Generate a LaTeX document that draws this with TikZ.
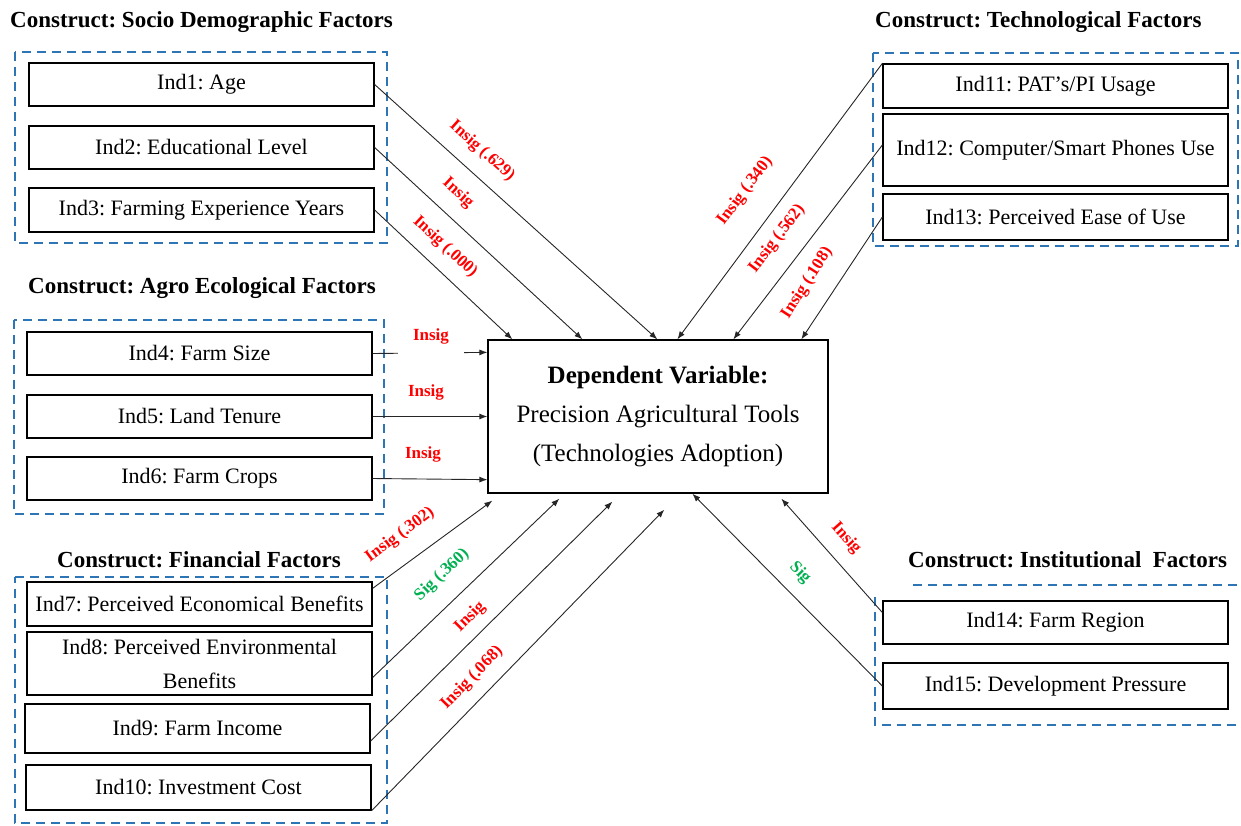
\documentclass[tikz,border=0pt]{standalone}
\usepackage{fontspec}
\setmainfont{Liberation Serif}
\usetikzlibrary{arrows.meta}
\definecolor{grpblue}{HTML}{2E75B6}
\definecolor{insigred}{HTML}{FF0000}
\definecolor{siggreen}{HTML}{00B050}
\frenchspacing
\begin{document}
\begin{tikzpicture}[x=1pt,y=-1pt,
  ind/.style={draw=black, line width=1.3pt, minimum width=345pt, inner sep=0pt,
              align=center, font=\fontsize{22}{34}\selectfont},
  heading/.style={anchor=west, inner sep=0pt, font=\bfseries\fontsize{23}{27}\selectfont},
  grp/.style={draw=grpblue, line width=2.4pt, dash pattern=on 9pt off 6pt},
  conn/.style={draw=black!85, line width=0.9pt, -{Latex[length=8pt,width=6pt]}},
  lab/.style={inner sep=1pt, font=\bfseries\fontsize{17}{20}\selectfont},
  insig/.style={lab, text=insigred},
  sig/.style={lab, text=siggreen}]
\useasboundingbox (0,0) rectangle (1241,825);

% construct headings
\node[heading] (hsocio) at (10,22)  {Construct: Socio Demographic Factors};
\node[heading] (htech)  at (875,22) {Construct: Technological Factors};
\node[heading] (hagro)  at (28,288) {Construct: Agro Ecological Factors};
\node[heading] (hfin)   at (57,560) {Construct: Financial Factors};
\node[heading] (hinst)  at (908,560) {Construct: Institutional\ \ Factors};

% dashed construct frames
\draw[grp] (15,52) rectangle (387,243);
\draw[grp] (14,320) rectangle (384,514);
\draw[grp] (15,577) -- (387,577) -- (387,823) -- (15,823) -- cycle;
\draw[grp] (873,53) rectangle (1238,246);
\draw[grp] (913,585) -- (1241,585);
\draw[grp] (875,597) -- (875,725) -- (1241,725);

% indicators
\node[ind, minimum height=43pt] (ind1) at (201.5,84.5) {Ind1: Age};
\node[ind, minimum height=43pt] (ind2) at (201.5,147.5) {Ind2: Educational Level};
\node[ind, minimum height=44pt] (ind3) at (201.5,210) {Ind3: Farming Experience Years};
\node[ind, minimum height=43pt] (ind4) at (199.5,353.5) {Ind4: Farm Size};
\node[ind, minimum height=43pt] (ind5) at (199.5,416.5) {Ind5: Land Tenure};
\node[ind, minimum height=43pt] (ind6) at (199.5,478.5) {Ind6: Farm Crops};
\node[ind, minimum height=44pt] (ind7) at (199.5,604) {Ind7: Perceived Economical Benefits};
\node[ind, minimum height=63pt] (ind8) at (199.5,663.5) {Ind8: Perceived Environmental\\Benefits};
\node[ind, minimum height=49pt] (ind9) at (197.5,728.5) {Ind9: Farm Income};
\node[ind, minimum height=45pt] (ind10) at (198.5,787.5) {Ind10: Investment Cost};
\node[ind, minimum height=44pt] (ind11) at (1055.5,86) {Ind11: PAT’s/PI Usage};
\node[ind, minimum height=72pt] (ind12) at (1055.5,150) {Ind12: Computer/Smart Phones Use};
\node[ind, minimum height=46pt] (ind13) at (1055.5,217) {Ind13: Perceived Ease of Use};
\node[ind, minimum height=43pt] (ind14) at (1055.5,622.5) {Ind14: Farm Region};
\node[ind, minimum height=46pt] (ind15) at (1055.5,686) {Ind15: Development Pressure};

% dependent variable
\node[draw=black, line width=1.3pt, minimum width=340pt, minimum height=153pt,
      inner sep=0pt, align=center, font=\fontsize{25}{39}\selectfont]
  (dv) at (658,416.5) {\textbf{Dependent Variable:}\\Precision Agricultural Tools\\(Technologies Adoption)};

% paths to the dependent variable
\draw[conn] (ind1.east) -- ([xshift=170pt]dv.north west);
\draw[conn] (ind2.east) -- ([xshift=95pt]dv.north west);
\draw[conn] (ind3.east) -- ([xshift=25pt]dv.north west);
\draw[conn] (ind4.east) -- ([yshift=-13pt]dv.north west);
\draw[conn] (ind5.east) -- (dv.west);
\draw[conn] (ind6.east) -- ([yshift=14pt]dv.south west);
\draw[conn] ([yshift=-7pt]ind7.north east) -- ([shift={(5pt,-7pt)}]dv.south west);
\draw[conn] ([yshift=-14pt]ind8.east) -- ([shift={(72pt,-5pt)}]dv.south west);
\draw[conn] ([yshift=-12.5pt]ind9.east) -- ([shift={(125pt,-8pt)}]dv.south west);
\draw[conn] (ind10.south east) -- ([shift={(177pt,-16pt)}]dv.south west);
\draw[conn] (ind11.north west) -- ([xshift=190pt]dv.north west);
\draw[conn] ([yshift=5pt]ind12.west) -- ([xshift=246pt]dv.north west);
\draw[conn] (ind13.west) -- ([xshift=314pt]dv.north west);
\draw[conn] ([yshift=10pt]ind14.west) -- ([shift={(294pt,-5pt)}]dv.south west);
\draw[conn] (ind15.west) -- ([xshift=205pt]dv.south west);

% significance labels
\node[insig, rotate=-41.9] (l1) at (482,151) {Insig (.629)};
\node[insig, rotate=-42.6] (l2) at (458,193) {Insig};
\node[insig, rotate=-42.9] (l3) at (445,247) {Insig (.000)};
\node[insig, fill=white, minimum width=66pt, minimum height=40pt] (l4) at (431,336) {Insig};
\node[insig] (l5) at (426,392) {Insig};
\node[insig] (l6) at (423,454) {Insig};
\node[insig, rotate=36.6] (l7) at (400,535) {Insig (.302)};
\node[sig, rotate=43.7] (l8) at (442,575) {Sig (.360)};
\node[insig, rotate=44.8] (l9) at (470,617) {Insig};
\node[insig, rotate=45.9] (l10) at (472,678) {Insig (.068)};
\node[insig, rotate=53.3] (l11) at (745,191) {Insig (.340)};
\node[insig, rotate=52.8] (l12) at (777,239) {Insig (.562)};
\node[insig, rotate=57.4] (l13) at (807,283) {Insig (.108)};
\node[insig, rotate=-48.5] (l14) at (846,538) {Insig};
\node[sig, rotate=-45.6] (l15) at (800,573) {Sig};
\end{tikzpicture}
\end{document}
